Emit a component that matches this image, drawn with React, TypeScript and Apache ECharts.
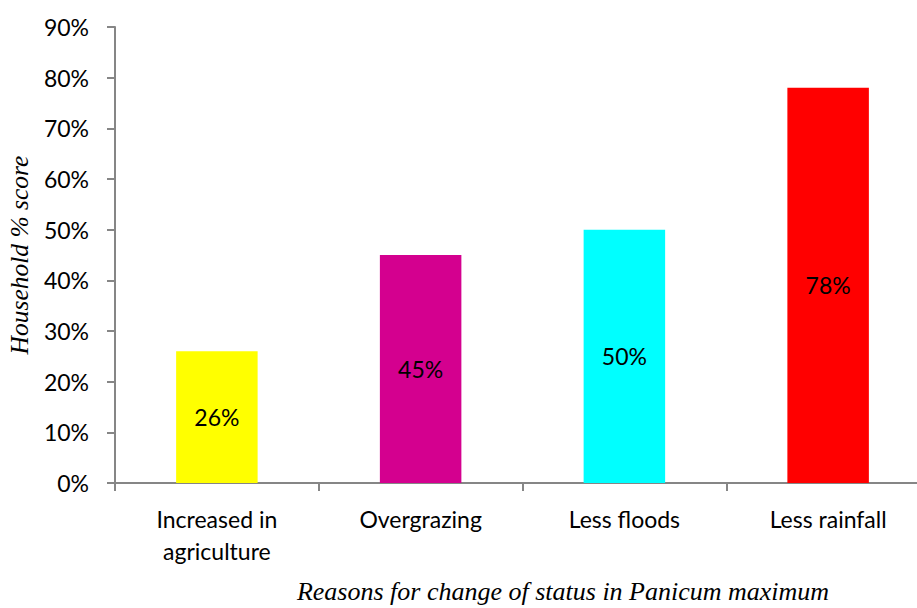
import React, { useEffect, useRef } from "react";
import * as echarts from "echarts";

const categories = ["Increased in\nagriculture", "Overgrazing", "Less floods", "Less rainfall"];
const values = [26, 45, 50, 78];
const barColors = ["#FFFF00", "#D4008F", "#00FFFF", "#FF0000"];
const yTicks = [0, 10, 20, 30, 40, 50, 60, 70, 80, 90];
const yAxisTitle = "Household % score";
const xAxisTitle = "Reasons for change of status in Panicum maximum";

export default function App() {
  const ref = useRef<HTMLDivElement>(null);
  useEffect(() => {
    if (!ref.current) return;
    const chart = echarts.init(ref.current, null, { renderer: "svg" });
    const font = "Lato, 'Open Sans', sans-serif";
    const serif = "'Liberation Serif', 'Times New Roman', serif";
    chart.setOption({
      animation: false,
      backgroundColor: "#ffffff",
      grid: { left: 115, right: -13, top: 27, bottom: 125, containLabel: false, outerBoundsMode: "none" },
      xAxis: {
        type: "category",
        data: categories,
        axisLine: { lineStyle: { color: "#868686", width: 2 } },
        axisTick: { show: true, length: 8, lineStyle: { color: "#868686", width: 2 } },
        axisLabel: { color: "#000", fontSize: 23, fontFamily: font, margin: 20, lineHeight: 32 },
      },
      yAxis: {
        type: "value",
        min: yTicks[0],
        max: yTicks[yTicks.length - 1],
        interval: 10,
        name: yAxisTitle,
        nameLocation: "middle",
        nameGap: 81,
        nameTextStyle: { fontFamily: serif, fontStyle: "italic", fontSize: 25.5, color: "#000" },
        axisLine: { show: true, lineStyle: { color: "#868686", width: 2 } },
        axisTick: { show: true, length: 8, lineStyle: { color: "#868686", width: 2 } },
        splitLine: { show: false },
        axisLabel: { color: "#000", fontSize: 23, fontFamily: font, margin: 26, formatter: (v: number) => v + "%" },
      },
      graphic: [
        {
          type: "text",
          x: 563,
          y: 604,
          style: {
            text: xAxisTitle,
            fontFamily: serif,
            fontStyle: "italic",
            fontSize: 26,
            fill: "#000",
            align: "center",
            verticalAlign: "bottom",
          },
        },
      ],
      series: [
        {
          type: "bar",
          barWidth: "40%",
          data: values.map((v, i) => ({ value: v, itemStyle: { color: barColors[i] } })),
          label: {
            show: true,
            position: "inside",
            color: "#000",
            fontSize: 23,
            fontFamily: font,
            formatter: (p: any) => p.value + "%",
          },
        },
      ],
    });
    return () => chart.dispose();
  }, []);
  return <div ref={ref} style={{ position: "fixed", left: 0, top: 0, width: 917, height: 608 }} />;
}
